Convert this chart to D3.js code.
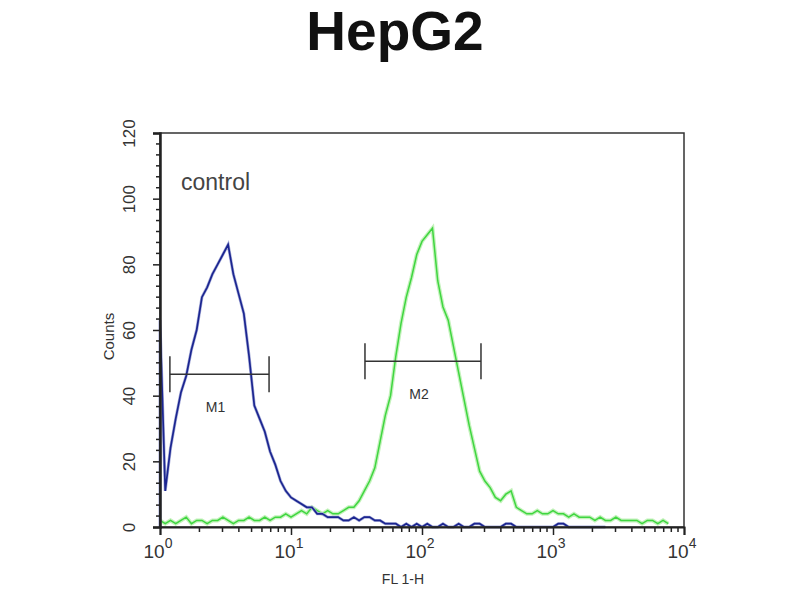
<!DOCTYPE html>
<html>
<head>
<meta charset="utf-8">
<script src="https://cdn.jsdelivr.net/npm/d3@7"></script>
<style>
  body { margin: 0; background: #fff; }
  svg { display: block; font-family: "Liberation Sans", Arial, sans-serif; }
</style>
</head>
<body>
<svg id="chart" width="800" height="600"></svg>
<script>
// channel positions in log10(FL1-H) decades, step 0.04
const channelStep = 0.04;

// control (blue) counts per channel
const controlCounts = [
  63, 11, 24, 33, 41, 46, 54, 60, 70, 73,
  77, 80, 83, 86, 77, 71, 65, 52, 37, 33,
  29, 23, 19, 14, 11, 9, 8, 7, 6, 6,
  4, 4, 3, 3, 3, 2, 2, 3, 2, 3,
  3, 2, 2, 1, 1, 1, 0, 1, 0, 1,
  0, 1, 0, 0, 1, 0, 0, 1, 0, 0,
  1, 1, 0, 0, 0, 0, 1, 1, 0, 0,
  0, 0, 0, 0, 0, 0, 1, 1, 0, 0,
  0, 0, 0, 0, 0, 0
];

// HepG2 sample (green) counts per channel
const sampleCounts = [
  2, 1, 2, 1, 2, 3, 1, 2, 2, 1,
  2, 2, 3, 2, 1, 2, 2, 3, 2, 2,
  3, 2, 3, 3, 4, 3, 4, 5, 4, 6,
  5, 4, 5, 4, 4, 5, 6, 6, 8, 11,
  14, 18, 26, 34, 40, 52, 62, 70, 76, 83,
  87, 89, 91, 75, 67, 63, 55, 47, 39, 31,
  24, 17, 14, 12, 9, 8, 10, 11, 6, 5,
  4, 4, 5, 4, 4, 5, 4, 4, 3, 4,
  3, 3, 3, 2, 3, 2, 2, 3, 2, 2,
  2, 2, 1, 2, 2, 1, 2, 1
];

// marker gates
const markerNames = ['M1', 'M2'];
const markerFrom = [1.19, 36.7];
const markerTo = [6.8, 282];
const markerLevel = [46.5, 50.5];

const yTickValues = [0, 20, 40, 60, 80, 100, 120];
const xDecades = [0, 1, 2, 3, 4];

const svg = d3.select('#chart');
const margin = {left: 160, right: 116, top: 133, bottom: 73};
const width = 800 - margin.left - margin.right;
const height = 600 - margin.top - margin.bottom;

const x = d3.scaleLog().domain([1, 10000]).range([margin.left, margin.left + width]);
const y = d3.scaleLinear().domain([0, 120]).range([margin.top + height, margin.top]);

const toPoints = counts => counts.map((c, i) => ({v: Math.pow(10, i * channelStep), c: c}));

const line = d3.line()
  .x(d => x(d.v))
  .y(d => y(d.c));

// title
svg.append('text')
  .attr('x', 395).attr('y', 50)
  .attr('text-anchor', 'middle')
  .attr('font-size', 55).attr('font-weight', 'bold')
  .attr('fill', '#111')
  .text('HepG2');

// sample histogram with a soft glow
const samplePts = toPoints(sampleCounts);
svg.append('path').datum(samplePts)
  .attr('d', line).attr('fill', 'none')
  .attr('stroke', '#c4f2bc').attr('stroke-width', 4);
svg.append('path').datum(samplePts)
  .attr('d', line).attr('fill', 'none')
  .attr('stroke', '#3fd640').attr('stroke-width', 1.5);

// control histogram
const controlPts = [{v: 1, c: 0}].concat(toPoints(controlCounts));
svg.append('path').datum(controlPts)
  .attr('d', line).attr('fill', 'none')
  .attr('stroke', '#a6acd8').attr('stroke-width', 3);
svg.append('path').datum(controlPts)
  .attr('d', line).attr('fill', 'none')
  .attr('stroke', '#1b2590').attr('stroke-width', 1.7);

// frame
svg.append('rect')
  .attr('x', margin.left).attr('y', margin.top)
  .attr('width', width).attr('height', height)
  .attr('fill', 'none').attr('stroke', '#333').attr('stroke-width', 1.5);

// y axis
const yAxis = d3.axisLeft(y).tickValues(yTickValues).tickSize(7).tickFormat(d3.format('d'));
const yG = svg.append('g').attr('transform', `translate(${margin.left},0)`).call(yAxis);
yG.select('.domain').attr('stroke', '#222').attr('stroke-width', 2.5);
yG.selectAll('.tick line').attr('stroke', '#222').attr('stroke-width', 1.5);
yG.selectAll('.tick text')
  .attr('font-size', 17).attr('fill', '#333')
  .attr('transform', 'rotate(-90)')
  .attr('x', 0).attr('dy', null)
  .attr('y', -29)
  .attr('text-anchor', 'middle')
  .attr('dominant-baseline', 'middle');
const yMinor = d3.range(0, 120, 20 / 6).filter(v => Math.abs(v % 20) > 0.01 && Math.abs(v % 20 - 20) > 0.01);
svg.append('g').selectAll('line').data(yMinor).enter().append('line')
  .attr('x1', margin.left).attr('x2', margin.left - 4)
  .attr('y1', d => y(d)).attr('y2', d => y(d))
  .attr('stroke', '#222').attr('stroke-width', 1.5);

// x axis
const xAxis = d3.axisBottom(x).tickValues(xDecades.map(d => Math.pow(10, d))).tickSize(8).tickFormat('');
const xG = svg.append('g').attr('transform', `translate(0,${margin.top + height})`).call(xAxis);
xG.select('.domain').attr('stroke', '#222').attr('stroke-width', 2);
xG.selectAll('.tick line').attr('stroke', '#222').attr('stroke-width', 1.5);
const xMinor = [];
xDecades.slice(0, -1).forEach(d => d3.range(2, 10).forEach(m => xMinor.push(m * Math.pow(10, d))));
xG.selectAll('.minor').data(xMinor).enter().append('line')
  .attr('class', 'minor')
  .attr('x1', d => x(d)).attr('x2', d => x(d))
  .attr('y1', 0).attr('y2', 5)
  .attr('stroke', '#222').attr('stroke-width', 1.5);

const xLab = svg.append('g').selectAll('text').data(xDecades).enter().append('text')
  .attr('x', d => x(Math.pow(10, d)) - 2)
  .attr('y', margin.top + height + 31)
  .attr('text-anchor', 'middle')
  .attr('font-size', 19).attr('fill', '#333');
xLab.append('tspan').text('10');
xLab.append('tspan').attr('dy', -10).attr('font-size', 14).text(d => d);

svg.append('text')
  .attr('x', 403).attr('y', 584)
  .attr('text-anchor', 'middle')
  .attr('font-size', 14).attr('fill', '#333')
  .text('FL 1-H');

svg.append('text')
  .attr('transform', `translate(110,${y(58)}) rotate(-90)`)
  .attr('text-anchor', 'middle')
  .attr('dominant-baseline', 'middle')
  .attr('font-size', 15).attr('fill', '#333')
  .text('Counts');

svg.append('text')
  .attr('x', 181).attr('y', 190)
  .attr('font-size', 23).attr('fill', '#444')
  .text('control');

// markers
const markers = markerNames.map((n, i) => ({name: n, from: markerFrom[i], to: markerTo[i], level: markerLevel[i]}));
const mg = svg.append('g').selectAll('g').data(markers).enter().append('g');
mg.append('line')
  .attr('x1', d => x(d.from)).attr('x2', d => x(d.to))
  .attr('y1', d => y(d.level)).attr('y2', d => y(d.level))
  .attr('stroke', '#333').attr('stroke-width', 1.5);
mg.append('line')
  .attr('x1', d => x(d.from)).attr('x2', d => x(d.from))
  .attr('y1', d => y(d.level) - 18).attr('y2', d => y(d.level) + 18)
  .attr('stroke', '#333').attr('stroke-width', 1.5);
mg.append('line')
  .attr('x1', d => x(d.to)).attr('x2', d => x(d.to))
  .attr('y1', d => y(d.level) - 18).attr('y2', d => y(d.level) + 18)
  .attr('stroke', '#333').attr('stroke-width', 1.5);
mg.append('text')
  .attr('x', d => x(Math.sqrt(d.from * d.to)) - 4)
  .attr('y', d => y(d.level) + 38)
  .attr('text-anchor', 'middle')
  .attr('font-size', 14).attr('fill', '#333')
  .text(d => d.name);
</script>
</body>
</html>
